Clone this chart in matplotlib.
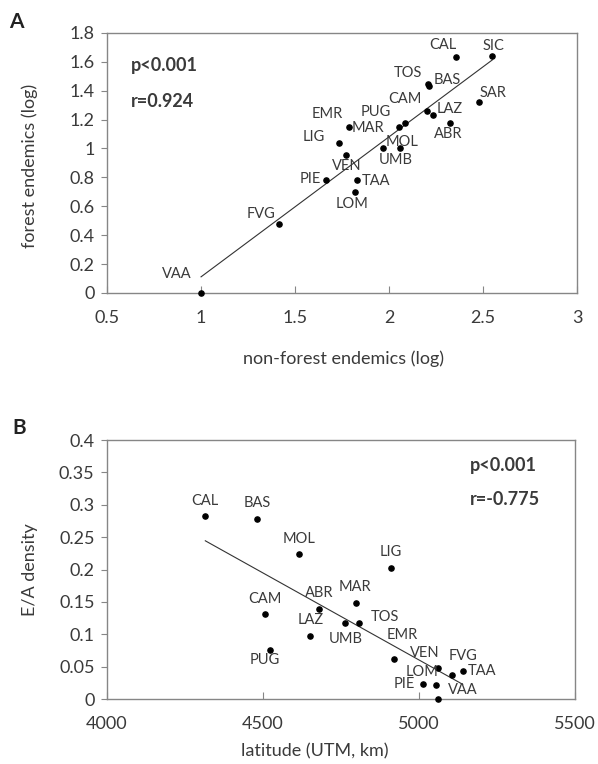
import matplotlib
matplotlib.use('Agg')
import matplotlib.pyplot as plt
import numpy as np
from matplotlib.ticker import FuncFormatter

# Panel A - forest vs non-forest endemics (log)
regions_a = ['CAL', 'SIC', 'TOS', 'BAS', 'CAM', 'SAR', 'PUG', 'LAZ', 'EMR', 'MAR',
             'ABR', 'LIG', 'MOL', 'UMB', 'VEN', 'PIE', 'TAA', 'LOM', 'FVG', 'VAA']
nonforest_a = [2.355, 2.549, 2.209, 2.215, 2.200, 2.477, 2.085, 2.234, 1.787, 2.055,
               2.326, 1.732, 1.968, 2.059, 1.770, 1.663, 1.828, 1.818, 1.416, 1.000]
forest_a = [1.636, 1.641, 1.447, 1.433, 1.258, 1.323, 1.177, 1.233, 1.150, 1.150,
            1.177, 1.041, 1.004, 1.004, 0.958, 0.780, 0.780, 0.699, 0.476, 0.000]

# Panel B - E/A density vs latitude
regions_b = ['CAL', 'BAS', 'MOL', 'LIG', 'CAM', 'ABR', 'MAR', 'LAZ', 'UMB', 'TOS',
             'PUG', 'EMR', 'VEN', 'FVG', 'TAA', 'LOM', 'PIE', 'VAA']
latitude_b = [4315, 4482, 4615, 4910, 4507, 4681, 4799, 4652, 4762, 4807,
              4522, 4919, 5062, 5107, 5140, 5055, 5014, 5061]
density_b = [0.283, 0.278, 0.224, 0.203, 0.131, 0.1385, 0.149, 0.098, 0.118, 0.117,
             0.076, 0.062, 0.048, 0.037, 0.044, 0.021, 0.024, 0.000]

# label offsets (points) from each dot
offs_a = {'CAL': (-9, 8), 'SIC': (1, 7), 'TOS': (-15, 8), 'BAS': (13, 4), 'CAM': (-16, 9),
          'SAR': (10, 6), 'PUG': (-21, 8), 'LAZ': (12, 4), 'EMR': (-16, 9), 'MAR': (-23, -1),
          'ABR': (-1.5, -8), 'LIG': (-18, 4), 'MOL': (14, 4), 'UMB': (-3, -9), 'VEN': (0.5, -8),
          'PIE': (-11, 1), 'TAA': (14, -0.5), 'LOM': (-2, -9), 'FVG': (-13, 7), 'VAA': (-17.5, 13.5)}
offs_b = {'CAL': (0, 11), 'BAS': (0, 11.5), 'MOL': (0, 11), 'LIG': (0, 11), 'CAM': (-0.5, 11),
          'ABR': (0, 12), 'MAR': (-0.7, 11.5), 'LAZ': (0, 11.5), 'UMB': (1, -12), 'TOS': (19, 4.5),
          'EMR': (6, 17), 'PUG': (-3.4, -7.5), 'VEN': (-10, 11), 'FVG': (8, 14), 'TAA': (14, 0),
          'LOM': (-10, 9.5), 'PIE': (-14, 0), 'VAA': (18, 6.5)}

plt.rcParams['font.family'] = ['Lato', 'DejaVu Sans']
TXT = '#3a3a3a'
SPINE = '#868686'

fig = plt.figure(figsize=(5.98, 7.64), dpi=100)
ax1 = fig.add_axes([0.179, 0.6165, 0.786, 0.3405])
ax2 = fig.add_axes([0.179, 0.085, 0.7825, 0.339])

fmt = FuncFormatter(lambda v, p: f'{v:g}')


def style(ax):
    for s in ax.spines.values():
        s.set_color(SPINE)
        s.set_linewidth(1.0)
    ax.tick_params(axis='y', direction='out', length=4, pad=5, colors=SPINE,
                   labelcolor=TXT, labelsize=13)
    ax.tick_params(axis='x', direction='in', length=5, pad=12, colors=SPINE,
                   labelcolor=TXT, labelsize=13)
    ax.tick_params(top=False, right=False)
    ax.xaxis.set_major_formatter(fmt)
    ax.yaxis.set_major_formatter(fmt)


def scatter_panel(ax, xs, ys, names, offs):
    ax.scatter(xs, ys, s=14, color='black', zorder=3, clip_on=False)
    k, b = np.polyfit(xs, ys, 1)
    xl = np.array([min(xs), max(xs)])
    ax.plot(xl, k * xl + b, color='#333333', lw=0.8, zorder=2)
    for x, y, n in zip(xs, ys, names):
        ax.annotate(n, (x, y), xytext=offs[n], textcoords='offset points',
                    ha='center', va='center', fontsize=10.5, color=TXT)


# Panel A
scatter_panel(ax1, nonforest_a, forest_a, regions_a, offs_a)
ax1.set_xlim(0.5, 3)
ax1.set_ylim(0, 1.8)
ax1.set_xticks(np.arange(0.5, 3.01, 0.5))
ax1.set_yticks(np.arange(0, 1.81, 0.2))
style(ax1)
ax1.set_xlabel('non-forest endemics (log)', fontsize=13, color=TXT)
ax1.set_ylabel('forest endemics (log)', fontsize=13, color=TXT)
ax1.xaxis.set_label_coords(0.503, -0.222)
ax1.yaxis.set_label_coords(-0.147, 0.49)
ax1.text(0.05, 0.873, 'p<0.001', transform=ax1.transAxes, fontsize=13,
         fontweight='bold', color=TXT, va='center')
ax1.text(0.05, 0.735, 'r=0.924', transform=ax1.transAxes, fontsize=13,
         fontweight='bold', color=TXT, va='center')

# Panel B
scatter_panel(ax2, latitude_b, density_b, regions_b, offs_b)
ax2.set_xlim(4000, 5500)
ax2.set_ylim(0, 0.4)
ax2.set_xticks([4000, 4500, 5000, 5500])
ax2.set_yticks(np.arange(0, 0.401, 0.05))
style(ax2)
ax2.set_xlabel('latitude (UTM, km)', fontsize=13, color=TXT)
ax2.set_ylabel('E/A density', fontsize=13, color=TXT)
ax2.xaxis.set_label_coords(0.444, -0.172)
ax2.yaxis.set_label_coords(-0.147, 0.498)
ax2.text(0.776, 0.9, 'p<0.001', transform=ax2.transAxes, fontsize=13,
         fontweight='bold', color=TXT, va='center')
ax2.text(0.776, 0.772, 'r=-0.775', transform=ax2.transAxes, fontsize=13,
         fontweight='bold', color=TXT, va='center')

fig.text(16 / 598, 1 - 21.7 / 764, 'A', fontsize=15, fontweight='bold',
         ha='center', va='center', color='#222222')
fig.text(19.3 / 598, 1 - 427.7 / 764, 'B', fontsize=15, fontweight='bold',
         ha='center', va='center', color='#222222')

fig.savefig('out.png', dpi=100, facecolor='white')
